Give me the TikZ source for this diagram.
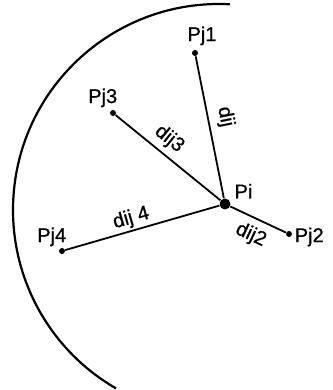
\documentclass[tikz,border=0pt]{standalone}
\usepackage{fontspec}
\setmainfont{Liberation Sans}[FakeBold=0.8]
\usetikzlibrary{positioning}

\begin{document}
\begin{tikzpicture}[x=1pt, y=1pt, thick,
    pt/.style={circle, fill=black, inner sep=0pt, minimum size=6pt},
    ptname/.style={font=\fontsize{20}{23}\selectfont, inner sep=1pt},
    dist/.style={font=\fontsize{20}{23}\selectfont, inner sep=2pt, sloped},
    spoke/.style={line width=1.8pt}]
    \useasboundingbox (0,0) rectangle (332,390);

    % Punkte
    \node[pt, minimum size=11pt] (pi) at (225,186) {};
    \node[pt] (pj1) at (195,337) {};
    \node[pt] (pj2) at (289,156) {};
    \node[pt] (pj3) at (113,277) {};
    \node[pt] (pj4) at (62,139) {};

    % Bezeichnungen
    \node[ptname, above=3pt of pj1, xshift=7pt] {Pj1};
    \node[ptname, above left=2pt and -8pt of pj3] {Pj3};
    \node[ptname, above left=1pt and -8pt of pj4] {Pj4};
    \node[ptname, right=1pt of pj2, yshift=-3pt] {Pj2};
    \node[ptname, above right=0pt and 4pt of pi] {Pi};

    % Abstaende
    \draw[spoke] (pj1) -- node[dist, above=5pt, pos=0.45] {dij} (pi);
    \draw[spoke] (pj3) -- node[dist, above=3pt, pos=0.42] {dij3} (pi);
    \draw[spoke] (pj4) -- node[dist, above, pos=0.45] {dij 4} (pi);
    \draw[spoke] (pi) -- node[dist, below=5pt, pos=0.5] {dij2} (pj2);

    % Radius
    \coordinate (c) at (219,180);
    \draw[line width=2.2pt] (c) ++(87:206) arc[start angle=87, end angle=240, radius=206];
\end{tikzpicture}
\end{document}
